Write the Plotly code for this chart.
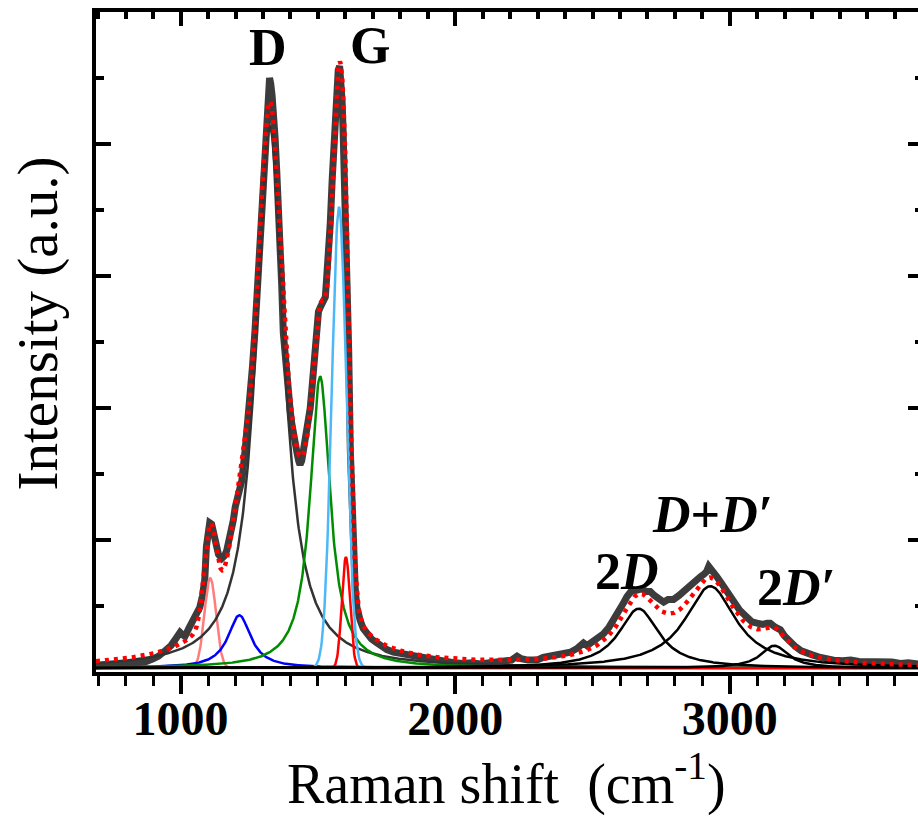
import numpy as np
import plotly.graph_objects as go

# ---------------- data ----------------
spec_x = [690, 720, 750, 780, 810, 840, 870, 900, 920, 943, 965, 985, 998, 1008, 1016,
          1030, 1045, 1058, 1070, 1080, 1088, 1094, 1100, 1106, 1113, 1120, 1126, 1138,
          1150, 1160, 1168, 1180, 1192, 1199, 1211, 1223, 1235, 1245, 1253, 1262, 1271,
          1280, 1289, 1297, 1304, 1310, 1315, 1320, 1324, 1328, 1333, 1338, 1344, 1350,
          1355, 1362, 1368, 1374, 1380, 1387, 1393, 1399, 1405, 1411, 1418, 1424, 1430,
          1435, 1441, 1447, 1455, 1466, 1472, 1478, 1484, 1490, 1496, 1502, 1508, 1514,
          1520, 1527, 1532, 1538, 1545, 1552, 1558, 1563, 1568, 1574, 1579, 1583, 1588,
          1592, 1596, 1601, 1607, 1612, 1618, 1624, 1630, 1636, 1642, 1648, 1654, 1665,
          1678, 1695, 1715, 1735, 1751, 1775, 1800, 1830, 1860, 1890, 1920, 1957, 1994,
          2030, 2060, 2090, 2115, 2150, 2180, 2205, 2225, 2240, 2265, 2297, 2320, 2346,
          2358, 2390, 2419, 2445, 2467, 2480, 2500, 2528, 2540, 2560, 2589, 2601, 2612,
          2625, 2640, 2662, 2680, 2695, 2710, 2725, 2740, 2759, 2775, 2795, 2815, 2830,
          2844, 2860, 2876, 2892, 2905, 2915, 2923, 2935, 2945, 2953, 2970, 2985, 3002,
          3020, 3035, 3050, 3065, 3080, 3099, 3120, 3135, 3147, 3165, 3184, 3200, 3220,
          3240, 3260, 3281, 3300, 3330, 3350, 3378, 3410, 3440, 3470, 3500, 3530, 3560,
          3590, 3621, 3650, 3690]
spec_y = [0.045, 0.05, 0.05, 0.06, 0.065, 0.07, 0.075, 0.10, 0.12, 0.16, 0.20, 0.26, 0.30, 0.28, 0.27,
          0.33, 0.39, 0.44, 0.49, 0.58, 0.70, 0.95, 1.08, 1.13, 1.12, 1.05, 1.00, 0.89,
          0.86, 0.88, 0.92, 1.02, 1.15, 1.25, 1.35, 1.45, 1.68, 1.88, 2.06, 2.32, 2.59,
          2.90, 3.20, 3.50, 3.80, 4.02, 4.22, 4.38, 4.50, 4.46, 4.37, 4.25, 4.05, 3.80,
          3.60, 3.25, 2.94, 2.57, 2.40, 2.24, 2.10, 1.98, 1.88, 1.78, 1.72, 1.66, 1.60,
          1.57, 1.60, 1.68, 1.75, 1.88, 2.00, 2.14, 2.28, 2.44, 2.69, 2.73, 2.76, 2.79,
          2.82, 2.84, 2.99, 3.12, 3.40, 3.73, 4.00, 4.26, 4.45, 4.56, 4.59, 4.52, 4.33,
          4.08, 3.80, 3.50, 3.20, 2.44, 1.68, 1.25, 0.85, 0.62, 0.49, 0.43, 0.39, 0.33,
          0.29, 0.25, 0.22, 0.19, 0.17, 0.15, 0.14, 0.13, 0.12, 0.10, 0.09, 0.08, 0.07,
          0.065, 0.07, 0.06, 0.065, 0.07, 0.08, 0.09, 0.12, 0.10, 0.09, 0.09, 0.11, 0.12,
          0.13, 0.14, 0.15, 0.18, 0.22, 0.20, 0.23, 0.27, 0.29, 0.34, 0.44, 0.46, 0.52,
          0.57, 0.61, 0.62, 0.63, 0.61, 0.61, 0.58, 0.56, 0.53, 0.55, 0.55, 0.58, 0.61,
          0.62, 0.66, 0.69, 0.72, 0.74, 0.76, 0.80, 0.76, 0.74, 0.72, 0.67, 0.62, 0.57,
          0.51, 0.47, 0.44, 0.41, 0.38, 0.37, 0.36, 0.37, 0.37, 0.34, 0.32, 0.27, 0.22,
          0.19, 0.16, 0.14, 0.13, 0.11, 0.10, 0.09, 0.085, 0.09, 0.08, 0.08, 0.075, 0.07,
          0.075, 0.065, 0.07, 0.06]

# fitted components: centre (cm-1), height (a.u.), FWHM (cm-1), profile
peak_center = [1108, 1214, 1325, 1508, 1577, 1602, 2668, 2929, 3162]
peak_height = [0.68, 0.40, 4.10, 2.21, 3.49, 0.84, 0.45, 0.62, 0.17]
peak_fwhm = [50, 100, 124, 88, 62, 35, 176, 225, 120]
peak_shape = ["G", "L", "L", "L", "G", "G", "L", "L", "L"]
peak_color = ["#ff7c7c", "#0000ff", "#333333", "#008c00", "#4db8f8", "#ff0000",
              "#000000", "#000000", "#000000"]
baseline = 0.03

x_range = [692, 3685]
y_range = [0, 5]
x_tick_vals = [1000, 2000, 3000]
x_tick_text = ["<b>1000</b>", "<b>2000</b>", "<b>3000</b>"]

label_text = ["<b>D</b>", "<b>G</b>", "<b>2<i>D</i></b>", "<b><i>D</i>+<i>D′</i></b>", "<b>2<i>D′</i></b>"]
label_x = [1317, 1690, 2626, 2935, 3240]
label_y = [4.73, 4.75, 0.76, 1.19, 0.64]

# ---------------- build figure ----------------
xs = np.arange(x_range[0], x_range[1] + 2, 2.0)


def profile(c, h, w, s):
    if s == "G":
        sig = w / 2.3548
        return h * np.exp(-(xs - c) ** 2 / (2 * sig ** 2))
    hw = w / 2.0
    return h / (1 + ((xs - c) / hw) ** 2)


comps = [profile(c, h, w, s) for c, h, w, s in zip(peak_center, peak_height, peak_fwhm, peak_shape)]
fit = baseline + np.sum(comps, axis=0)

FONT = "Liberation Serif"
fig = go.Figure()

fig.add_trace(go.Scatter(x=spec_x, y=spec_y, mode="lines",
                         line=dict(color="#3c3c3c", width=7), showlegend=False))
for comp, col in zip(comps, peak_color):
    fig.add_trace(go.Scatter(x=xs, y=baseline + comp, mode="lines",
                             line=dict(color=col, width=2.5), showlegend=False))
fig.add_trace(go.Scatter(x=xs, y=fit, mode="lines",
                         line=dict(color="#ff0000", width=4.5, dash="4px,5px"), showlegend=False))
# dummy trace to activate mirrored axes
fig.add_trace(go.Scatter(x=[None], y=[None], xaxis="x2", yaxis="y2", showlegend=False))

for t, x, y in zip(label_text, label_x, label_y):
    fig.add_annotation(x=x, y=y, text=t, showarrow=False,
                       font=dict(family=FONT, size=52, color="black"))

fig.add_annotation(xref="paper", yref="paper", x=0.4994, y=-0.1636, xanchor="center", yanchor="middle",
                   text="Raman shift  (cm<sup>-1</sup>)",
                   showarrow=False, font=dict(family=FONT, size=56, color="black"))
fig.add_annotation(xref="paper", yref="paper", x=-0.0706, y=0.528, xanchor="center", yanchor="middle",
                   text="Intensity (a.u.)", textangle=-90,
                   showarrow=False, font=dict(family=FONT, size=57, color="black"))

fig.update_layout(
    width=918, height=821,
    margin=dict(l=96, r=0, t=12, b=149),
    plot_bgcolor="white", paper_bgcolor="white",
    xaxis=dict(range=x_range, showline=True, linewidth=4, linecolor="black",
               ticks="outside", ticklen=18, tickwidth=4, tickcolor="black",
               tickvals=x_tick_vals, ticktext=x_tick_text, ticklabelstandoff=-17,
               tickfont=dict(family=FONT, size=48, color="black"),
               minor=dict(dtick=100, tick0=0, ticks="outside", ticklen=10, tickwidth=3, tickcolor="black"),
               showgrid=False, zeroline=False),
    xaxis2=dict(range=x_range, overlaying="x", side="top", showline=True, linewidth=4,
                linecolor="black", ticks="inside", ticklen=14, tickwidth=4, tickcolor="black",
                dtick=1000, tick0=0, showticklabels=False,
                minor=dict(dtick=100, tick0=0, ticks="inside", ticklen=7, tickwidth=4, tickcolor="black"),
                showgrid=False, zeroline=False),
    yaxis=dict(range=y_range, showline=True, linewidth=4, linecolor="black",
               ticks="inside", ticklen=15, tickwidth=4, tickcolor="black", dtick=1, tick0=0,
               showticklabels=False,
               minor=dict(dtick=0.5, tick0=0, ticks="inside", ticklen=8, tickwidth=4, tickcolor="black"),
               showgrid=False, zeroline=False),
    yaxis2=dict(range=y_range, overlaying="y", side="right", showline=False,
                ticks="inside", ticklen=10, tickwidth=4, tickcolor="black", dtick=1, tick0=0,
                showticklabels=False,
                minor=dict(dtick=0.5, tick0=0, ticks="inside", ticklen=3, tickwidth=4, tickcolor="black"),
                showgrid=False, zeroline=False),
)

fig.write_html("out.html")
